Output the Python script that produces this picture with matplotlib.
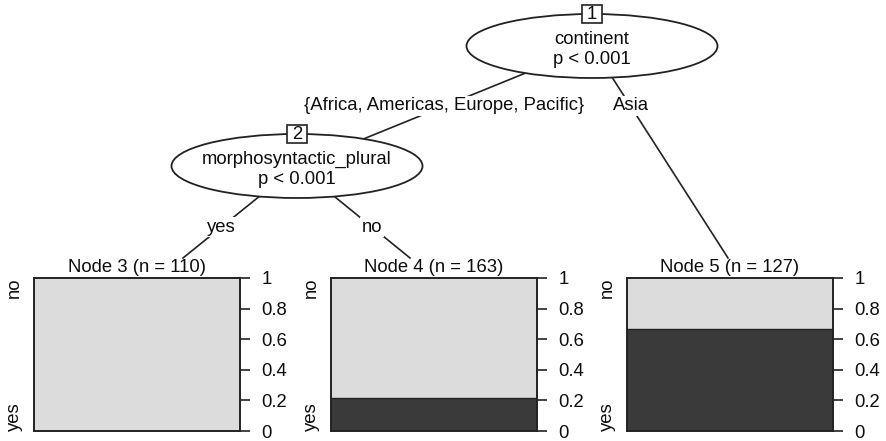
import matplotlib
matplotlib.use("Agg")
import matplotlib.pyplot as plt
from matplotlib.patches import Ellipse, Rectangle

plt.rcParams['font.family'] = ['Liberation Sans', 'DejaVu Sans']

# ---------------- data ----------------
inner_ids = [1, 2]
inner_vars = ["continent", "morphosyntactic_plural"]
inner_p = ["p < 0.001", "p < 0.001"]
edge_labels = ["{Africa, Americas, Europe, Pacific}", "Asia", "yes", "no"]
terminal_ids = [3, 4, 5]
terminal_n = [110, 163, 127]
prop_yes = [0.0, 0.215, 0.669]          # share of "yes" in each terminal node
classes = ["yes", "no"]
tick_vals = [0, 0.2, 0.4, 0.6, 0.8, 1]
tick_labels = ["0", "0.2", "0.4", "0.6", "0.8", "1"]

# ---------------- layout (pixels) ----------------
W, H = 886, 441
FS = 13.3
inner_xy = [(592, 46), (297, 166)]
ell_w, ell_h = 251, 64
panel_x = [(34, 240), (331, 537), (627, 833)]
panel_top, panel_bot = 278, 431
edge_defs = [  # (from, to, label position y)
    ((592, 46), (297, 166), 106),
    ((592, 46), (728, 258), 106),
    ((297, 166), (183, 258), 227),
    ((297, 166), (410, 258), 227),
]
line_col = "#222222"
txt_col = "#0d0d0d"
dark, light = "#3a3a3a", "#dcdcdc"

fig = plt.figure(figsize=(W / 100, H / 100), dpi=100)
ax = fig.add_axes([0, 0, 1, 1])
ax.set_xlim(0, W)
ax.set_ylim(H, 0)
ax.axis("off")

# edges with labels
for (p0, p1, ly), lab in zip(edge_defs, edge_labels):
    ax.plot([p0[0], p1[0]], [p0[1], p1[1]], color=line_col, lw=1.2, zorder=1)
    t = (ly - p0[1]) / (p1[1] - p0[1])
    lx = p0[0] + t * (p1[0] - p0[0])
    ax.text(lx, ly, lab, ha="center", va="center", fontsize=FS, color=txt_col,
            bbox=dict(facecolor="white", edgecolor="none", pad=1.0), zorder=3)

# inner nodes
for (cx, cy), nid, var, p in zip(inner_xy, inner_ids, inner_vars, inner_p):
    ax.add_patch(Ellipse((cx, cy), ell_w, ell_h, facecolor="white",
                         edgecolor=line_col, lw=1.3, zorder=4))
    ax.add_patch(Rectangle((cx - 10, cy - ell_h / 2 - 9), 20, 18, facecolor="white",
                           edgecolor=line_col, lw=1.2, zorder=5))
    ax.text(cx, cy - ell_h / 2 + 0.5, str(nid), ha="center", va="center",
            fontsize=FS, color=txt_col, zorder=6)
    ax.text(cx, cy - 7, var, ha="center", va="center", fontsize=FS, color=txt_col, zorder=6)
    ax.text(cx, cy + 13, p, ha="center", va="center", fontsize=FS, color=txt_col, zorder=6)

# terminal nodes
for (x0, x1), nid, n, py in zip(panel_x, terminal_ids, terminal_n, prop_yes):
    cx = (x0 + x1) / 2
    ax.text(cx, panel_top - 10, f"Node {nid} (n = {n})", ha="center", va="center",
            fontsize=FS, color=txt_col, zorder=6)
    ax.text(x0 - 20, panel_top, classes[1], rotation=90, ha="center", va="top",
            fontsize=FS, color=txt_col)
    ax.text(x0 - 20, panel_bot, classes[0], rotation=90, ha="center", va="bottom",
            fontsize=FS, color=txt_col)
    pax = fig.add_axes([x0 / W, 1 - panel_bot / H, (x1 - x0) / W,
                        (panel_bot - panel_top) / H])
    pax.bar([0], [py], width=1, bottom=0, color=dark, edgecolor="none")
    pax.bar([0], [1 - py], width=1, bottom=py, color=light, edgecolor="none")
    if py > 0:
        pax.axhline(py, color="#222", lw=1.0)
    pax.set_xlim(-0.5, 0.5)
    pax.set_ylim(0, 1)
    pax.set_xticks([])
    pax.yaxis.tick_right()
    pax.set_yticks(tick_vals)
    pax.set_yticklabels(tick_labels)
    pax.tick_params(axis="y", length=7.5, width=1.2, pad=8, labelsize=FS,
                    colors="#222", labelcolor=txt_col)
    for s in pax.spines.values():
        s.set_linewidth(1.4)
        s.set_color("#222")

fig.savefig("out.png", dpi=100)
